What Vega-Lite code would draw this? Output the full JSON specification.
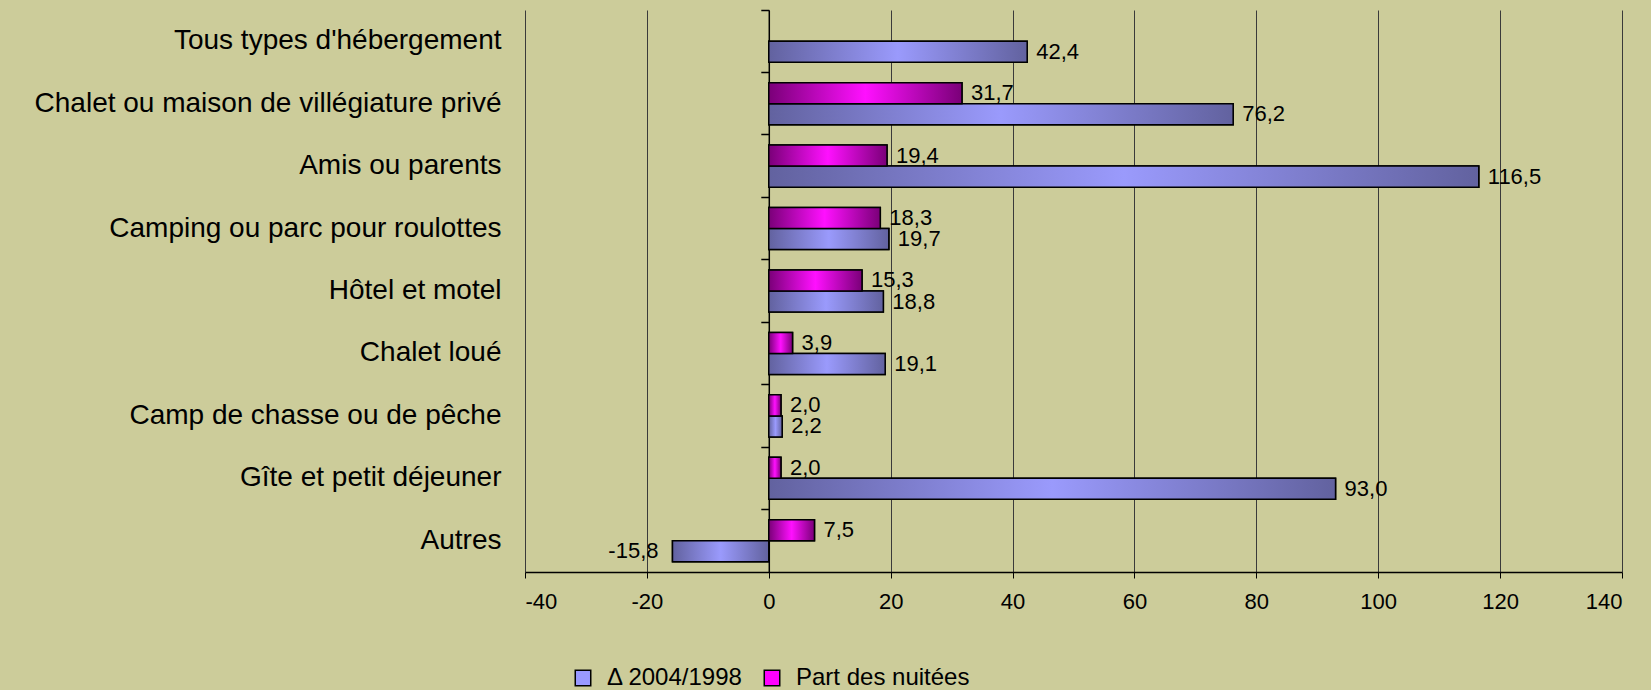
{
  "$schema": "https://vega.github.io/schema/vega-lite/v6.json",
  "width": 1097,
  "height": 562,
  "autosize": "none",
  "padding": {"left": 525, "top": 10, "right": 29, "bottom": 118},
  "background": "#cccc9a",
  "config": {
    "locale": {"number": {"decimal": ",", "thousands": " ", "grouping": [3], "currency": ["", " €"], "minus": "-"}},
    "view": {"stroke": null},
    "font": "Liberation Sans"
  },
  "data": {
    "values": [
      {"type": "Tous types d'hébergement", "series": "Δ 2004/1998", "value": 42.4},
      {"type": "Chalet ou maison de villégiature privé", "series": "Part des nuitées", "value": 31.7},
      {"type": "Chalet ou maison de villégiature privé", "series": "Δ 2004/1998", "value": 76.2},
      {"type": "Amis ou parents", "series": "Part des nuitées", "value": 19.4},
      {"type": "Amis ou parents", "series": "Δ 2004/1998", "value": 116.5},
      {"type": "Camping ou parc pour roulottes", "series": "Part des nuitées", "value": 18.3},
      {"type": "Camping ou parc pour roulottes", "series": "Δ 2004/1998", "value": 19.7},
      {"type": "Hôtel et motel", "series": "Part des nuitées", "value": 15.3},
      {"type": "Hôtel et motel", "series": "Δ 2004/1998", "value": 18.8},
      {"type": "Chalet loué", "series": "Part des nuitées", "value": 3.9},
      {"type": "Chalet loué", "series": "Δ 2004/1998", "value": 19.1},
      {"type": "Camp de chasse ou de pêche", "series": "Part des nuitées", "value": 2.0},
      {"type": "Camp de chasse ou de pêche", "series": "Δ 2004/1998", "value": 2.2},
      {"type": "Gîte et petit déjeuner", "series": "Part des nuitées", "value": 2.0},
      {"type": "Gîte et petit déjeuner", "series": "Δ 2004/1998", "value": 93.0},
      {"type": "Autres", "series": "Part des nuitées", "value": 7.5},
      {"type": "Autres", "series": "Δ 2004/1998", "value": -15.8}
    ]
  },
  "encoding": {
    "y": {
      "field": "type", "type": "nominal",
      "sort": ["Tous types d'hébergement", "Chalet ou maison de villégiature privé", "Amis ou parents", "Camping ou parc pour roulottes", "Hôtel et motel", "Chalet loué", "Camp de chasse ou de pêche", "Gîte et petit déjeuner", "Autres"],
      "scale": {"paddingInner": 0, "paddingOuter": 0},
      "axis": null
    },
    "yOffset": {
      "field": "series", "type": "nominal",
      "sort": ["Part des nuitées", "Δ 2004/1998"],
      "scale": {"domain": ["Part des nuitées", "Δ 2004/1998"], "paddingInner": 0, "paddingOuter": 0.485}
    },
    "x": {
      "field": "value", "type": "quantitative",
      "scale": {"domain": [-40, 140], "nice": false, "zero": false},
      "axis": {
        "values": [-40, -20, 0, 20, 40, 60, 80, 100, 120, 140],
        "format": "d",
        "title": null,
        "grid": true,
        "gridColor": "#3a3a3a",
        "gridWidth": 1,
        "domainColor": "#000",
        "domainWidth": 1.5,
        "tickColor": "#000",
        "tickSize": 6,
        "labelFontSize": 22,
        "labelColor": "#000",
        "labelPadding": 13
      }
    }
  },
  "resolve": {"axis": {"y": "independent"}},
  "layer": [
    {
      "mark": {"type": "bar", "stroke": "#000", "strokeWidth": 1.5},
      "encoding": {
        "y": {
          "field": "type", "type": "nominal",
          "sort": ["Tous types d'hébergement", "Chalet ou maison de villégiature privé", "Amis ou parents", "Camping ou parc pour roulottes", "Hôtel et motel", "Chalet loué", "Camp de chasse ou de pêche", "Gîte et petit déjeuner", "Autres"],
          "scale": {"paddingInner": 0, "paddingOuter": 0},
          "axis": {"title": null, "domain": false, "ticks": false, "labelFontSize": 28, "labelColor": "#000", "labelPadding": 24, "labelLimit": 700, "orient": "left"}
        },
        "color": {
          "field": "series", "type": "nominal",
          "scale": {"domain": ["Δ 2004/1998", "Part des nuitées"], "range": ["#9999ff", "#ff00ff"]},
          "legend": {
            "orient": "none", "legendX": 46, "legendY": 656, "direction": "horizontal",
            "title": null, "symbolType": "square", "symbolSize": 240,
            "symbolStrokeColor": "#000", "symbolStrokeWidth": 1.5,
            "labelFontSize": 24, "labelColor": "#000", "labelOffset": 12, "labelLimit": 400,
            "columnPadding": 16, "padding": 0
          }
        }
      }
    },
    {
      "transform": [{"filter": "datum.series === 'Δ 2004/1998'"}],
      "mark": {
        "type": "bar", "stroke": "#000", "strokeWidth": 1.5,
        "fill": {"gradient": "linear", "x1": 0, "y1": 0, "x2": 1, "y2": 0,
          "stops": [{"offset": 0, "color": "#62629f"}, {"offset": 0.5, "color": "#9a9afc"}, {"offset": 1, "color": "#62629f"}]}
      },
      "encoding": {
        "y": {
          "field": "type", "type": "nominal",
          "sort": ["Tous types d'hébergement", "Chalet ou maison de villégiature privé", "Amis ou parents", "Camping ou parc pour roulottes", "Hôtel et motel", "Chalet loué", "Camp de chasse ou de pêche", "Gîte et petit déjeuner", "Autres"],
          "scale": {"paddingInner": 0, "paddingOuter": 0},
          "axis": {"title": null, "labels": false, "domain": true, "domainColor": "#000", "domainWidth": 1.5, "ticks": true, "tickColor": "#000", "tickSize": 8, "tickWidth": 1.5, "bandPosition": 0, "offset": -243.8, "orient": "left", "grid": false}
        }
      }
    },
    {
      "transform": [{"filter": "datum.series === 'Part des nuitées'"}],
      "mark": {
        "type": "bar", "stroke": "#000", "strokeWidth": 1.5,
        "fill": {"gradient": "linear", "x1": 0, "y1": 0, "x2": 1, "y2": 0,
          "stops": [{"offset": 0, "color": "#7a0078"}, {"offset": 0.5, "color": "#ff10ff"}, {"offset": 1, "color": "#7a0078"}]}
      }
    },
    {
      "transform": [{"filter": "datum.value >= 0"}],
      "mark": {"type": "text", "align": "left", "baseline": "middle", "dx": 9, "fontSize": 22, "color": "#000"},
      "encoding": {"text": {"field": "value", "type": "quantitative", "format": ".1f"}}
    },
    {
      "transform": [{"filter": "datum.value < 0"}],
      "mark": {"type": "text", "align": "right", "baseline": "middle", "dx": -14, "fontSize": 22, "color": "#000"},
      "encoding": {"text": {"field": "value", "type": "quantitative", "format": ".1f"}}
    }
  ]
}
